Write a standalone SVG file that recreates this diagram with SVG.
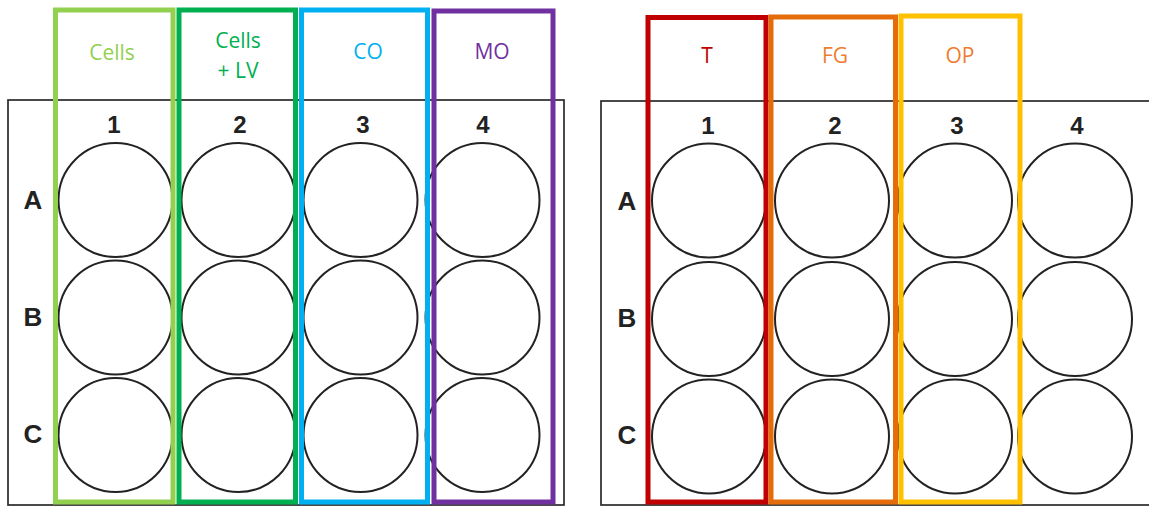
<svg xmlns="http://www.w3.org/2000/svg" width="1149" height="506" viewBox="0 0 1149 506">
<style>
.plate{fill:none;stroke:#2a2a2a;stroke-width:1.7}
.well{fill:none;stroke:#222;stroke-width:2}
.grp{fill:none;stroke-width:5}
.num{font-family:"Liberation Sans",Arial,sans-serif;font-weight:bold;font-size:24px;fill:#222;text-anchor:middle}
.row{font-family:"Liberation Sans",Arial,sans-serif;font-weight:bold;font-size:26px;fill:#222;text-anchor:middle}
.lbl{font-family:"Open Sans","Noto Sans",sans-serif;font-size:21px;text-anchor:middle}
</style>
<rect width="1149" height="506" fill="#fff"/>
<g id="plate-left">
<rect class="plate" x="8" y="100" width="556" height="405"/>
<text class="num" x="114" y="133">1</text>
<text class="num" x="240" y="133">2</text>
<text class="num" x="363" y="133">3</text>
<text class="num" x="483" y="133">4</text>
<text class="row" x="33" y="209">A</text>
<text class="row" x="33" y="326">B</text>
<text class="row" x="33" y="443">C</text>
<g id="wells-left">
<circle class="well" cx="115.5" cy="200" r="57"/>
<circle class="well" cx="238.5" cy="200" r="57"/>
<circle class="well" cx="360.5" cy="200" r="57"/>
<circle class="well" cx="482.5" cy="200" r="57"/>
<circle class="well" cx="115.5" cy="317.5" r="57"/>
<circle class="well" cx="238.5" cy="317.5" r="57"/>
<circle class="well" cx="360.5" cy="317.5" r="57"/>
<circle class="well" cx="482.5" cy="317.5" r="57"/>
<circle class="well" cx="115.5" cy="435" r="57"/>
<circle class="well" cx="238.5" cy="435" r="57"/>
<circle class="well" cx="360.5" cy="435" r="57"/>
<circle class="well" cx="482.5" cy="435" r="57"/>
</g>
</g>
<g id="plate-right">
<rect class="plate" x="601" y="101" width="600" height="404"/>
<text class="num" x="708" y="134">1</text>
<text class="num" x="835" y="134">2</text>
<text class="num" x="957" y="134">3</text>
<text class="num" x="1077" y="134">4</text>
<text class="row" x="627" y="210">A</text>
<text class="row" x="627" y="327">B</text>
<text class="row" x="627" y="444">C</text>
<g id="wells-right">
<circle class="well" cx="709" cy="200.5" r="57"/>
<circle class="well" cx="832" cy="200.5" r="57"/>
<circle class="well" cx="955" cy="200.5" r="57"/>
<circle class="well" cx="1075" cy="200.5" r="57"/>
<circle class="well" cx="709" cy="319" r="57"/>
<circle class="well" cx="832" cy="319" r="57"/>
<circle class="well" cx="955" cy="319" r="57"/>
<circle class="well" cx="1075" cy="319" r="57"/>
<circle class="well" cx="709" cy="436.5" r="57"/>
<circle class="well" cx="832" cy="436.5" r="57"/>
<circle class="well" cx="955" cy="436.5" r="57"/>
<circle class="well" cx="1075" cy="436.5" r="57"/>
</g>
</g>
<g id="col-cells">
<rect class="grp" x="55.5" y="10" width="117.5" height="492" stroke="#92D050"/>
<text class="lbl" x="112" y="60" fill="#92D050">Cells</text>
</g>
<g id="col-cells-lv">
<rect class="grp" x="179" y="10" width="116.5" height="492" stroke="#00B050"/>
<text class="lbl" x="238" y="48" fill="#00B050">Cells</text>
<text class="lbl" x="238" y="78" fill="#00B050">+ LV</text>
</g>
<g id="col-co">
<rect class="grp" x="301.5" y="10" width="126" height="492" stroke="#00B0F0"/>
<text class="lbl" x="368" y="59" fill="#00B0F0">CO</text>
</g>
<g id="col-mo">
<rect class="grp" x="434" y="11" width="119" height="491" stroke="#7030A0"/>
<text class="lbl" x="492" y="59" fill="#7030A0">MO</text>
</g>
<g id="col-t">
<rect class="grp" x="648" y="17.5" width="118" height="484.5" stroke="#C00000"/>
<text class="lbl" x="707" y="63" fill="#C00000">T</text>
</g>
<g id="col-fg">
<rect class="grp" x="771" y="17" width="124.5" height="485" stroke="#E46C0A"/>
<text class="lbl" x="835" y="63" fill="#ED7D31">FG</text>
</g>
<g id="col-op">
<rect class="grp" x="901" y="16" width="119" height="486" stroke="#FFC000"/>
<text class="lbl" x="960" y="63" fill="#ED7D31">OP</text>
</g>
<g id="connectors"/>
</svg>
